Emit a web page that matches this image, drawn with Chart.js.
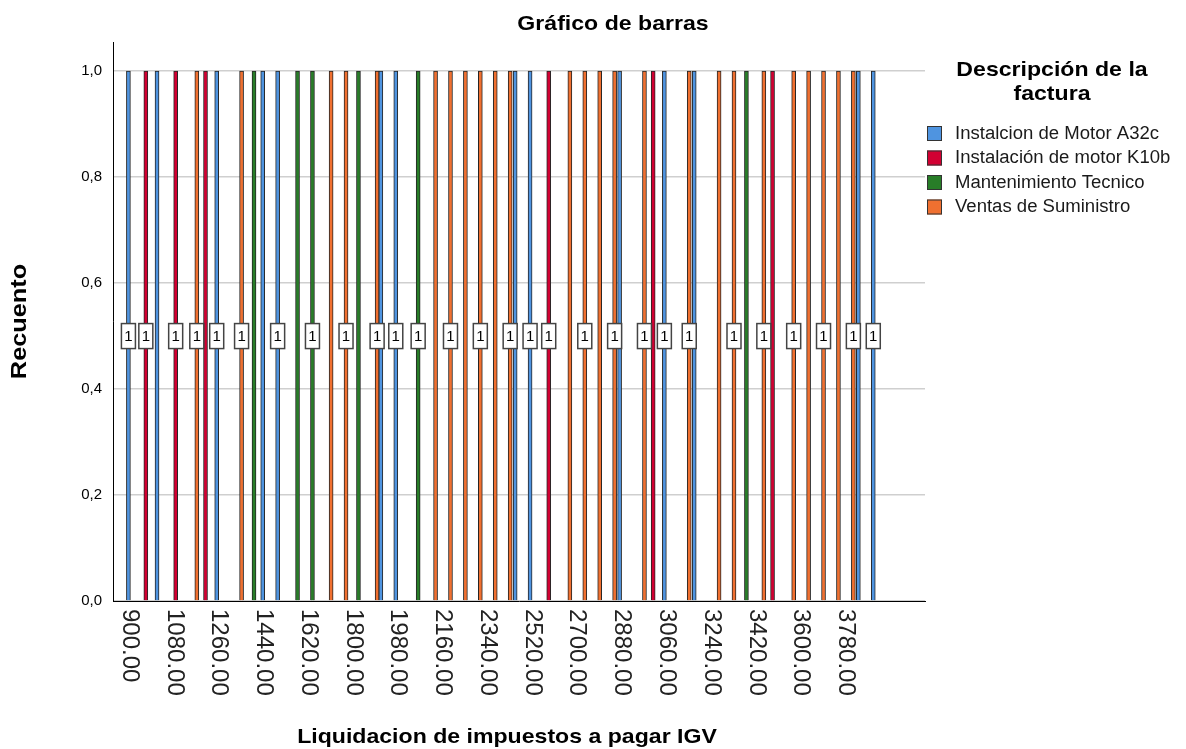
<!DOCTYPE html>
<html>
<head>
<meta charset="utf-8">
<script src="https://cdn.jsdelivr.net/npm/chart.js@4/dist/chart.umd.min.js"></script>
<style>
  html, body { margin: 0; padding: 0; background: #ffffff; }
  #wrap { width: 1186px; height: 749px; position: relative; }
</style>
</head>
<body>
<div id="wrap"><canvas id="chart" width="1186" height="749"></canvas></div>
<script>
// IGV amounts per invoice description, and the count of invoices at each amount
const seriesNames = [
  'Instalcion de Motor A32c',
  'Instalación de motor K10b',
  'Mantenimiento Tecnico',
  'Ventas de Suministro'
];

const igvMotorA32c = [900, 1015, 1255, 1440, 1500, 1915, 1975, 2455, 2515, 2875, 3055, 3175, 3835, 3895];
const cntMotorA32c = [1, 1, 1, 1, 1, 1, 1, 1, 1, 1, 1, 1, 1, 1];

const igvMotorK10b = [970, 1090, 1210, 2590, 3010, 3490];
const cntMotorK10b = [1, 1, 1, 1, 1, 1];

const igvMantenimiento = [1405, 1580, 1640, 1825, 2065, 3385];
const cntMantenimiento = [1, 1, 1, 1, 1, 1];

const igvSuministro = [1175, 1355, 1715, 1775, 1900, 2135, 2195, 2255, 2315, 2375, 2435,
                       2675, 2735, 2795, 2855, 2975, 3155, 3275, 3335, 3455,
                       3575, 3635, 3695, 3755, 3815];
const cntSuministro = [1, 1, 1, 1, 1, 1, 1, 1, 1, 1, 1, 1, 1, 1, 1, 1, 1, 1, 1, 1, 1, 1, 1, 1, 1];

// labelled positions on the IGV axis
const igvTicks = [900, 1080, 1260, 1440, 1620, 1800, 1980, 2160, 2340, 2520,
                  2700, 2880, 3060, 3240, 3420, 3600, 3780];

const chartTitle = 'Gráfico de barras';
const xTitle = 'Liquidacion de impuestos a pagar IGV';
const yTitle = 'Recuento';
const legendTitle = ['Descripción de la', 'factura'];

const FONT = "'Liberation Sans', Arial, Helvetica, sans-serif";
const fills = ['#4f94e0', '#d20032', '#287d28', '#f07030'];

const seriesIgv = [igvMotorA32c, igvMotorK10b, igvMantenimiento, igvSuministro];
const seriesCnt = [cntMotorA32c, cntMotorK10b, cntMantenimiento, cntSuministro];

const datasets = seriesIgv.map((xs, s) => ({
  label: seriesNames[s],
  data: xs.map((v, i) => ({ x: v, y: seriesCnt[s][i] })),
  backgroundColor: fills[s],
  borderColor: '#262626',
  borderWidth: 1,
  barThickness: 4,
  grouped: false
}));

// text slightly widened, the way the titles are set
function wideText(ctx, text, x, y, sx) {
  ctx.save();
  ctx.translate(x, y);
  ctx.scale(sx, 1);
  ctx.fillText(text, 0, 0);
  ctx.restore();
}

// Text drawn around the plot: title, rotated IGV tick labels, axis titles, legend
const decorations = {
  id: 'decorations',
  afterDatasetsDraw(chart) {
    const ctx = chart.ctx;
    const yScale = chart.scales.y;
    // count labels at mid-height of each bar; later series / larger values claim space first
    const placed = [];
    ctx.save();
    for (let d = chart.data.datasets.length - 1; d >= 0; d--) {
      const meta = chart.getDatasetMeta(d);
      for (let i = meta.data.length - 1; i >= 0; i--) {
        const el = meta.data[i];
        const val = chart.data.datasets[d].data[i].y;
        if (placed.some(px => Math.abs(px - el.x) < 16)) continue;
        placed.push(el.x);
        const yc = yScale.getPixelForValue(val / 2);
        const w = 14, h = 25;
        ctx.fillStyle = '#ffffff';
        ctx.fillRect(el.x - w / 2, yc - h / 2, w, h);
        ctx.strokeStyle = '#444444';
        ctx.lineWidth = 1.5;
        ctx.strokeRect(el.x - w / 2, yc - h / 2, w, h);
        ctx.fillStyle = '#000000';
        ctx.font = `15px ${FONT}`;
        ctx.textAlign = 'center';
        ctx.textBaseline = 'middle';
        ctx.fillText(String(val), el.x, yc + 1);
      }
    }
    ctx.restore();
  },
  afterDraw(chart) {
    const ctx = chart.ctx;
    const xScale = chart.scales.x;
    const area = chart.chartArea;
    ctx.save();

    // rotated IGV tick labels, reading downward
    ctx.fillStyle = '#222222';
    ctx.font = `24px ${FONT}`;
    ctx.textAlign = 'left';
    ctx.textBaseline = 'middle';
    xScale.ticks.forEach(t => {
      const px = xScale.getPixelForValue(t.value);
      ctx.save();
      ctx.translate(px + 1, area.bottom + 8);
      ctx.rotate(Math.PI / 2);
      ctx.fillText(t.value.toFixed(2), 0, 0);
      ctx.restore();
    });

    // chart title
    ctx.fillStyle = '#000000';
    ctx.font = `bold 21px ${FONT}`;
    ctx.textAlign = 'center';
    ctx.textBaseline = 'middle';
    wideText(ctx, chartTitle, 613, 24, 1.1);

    // axis titles
    wideText(ctx, xTitle, 507, 737, 1.1);
    ctx.save();
    ctx.font = `bold 22px ${FONT}`;
    ctx.translate(20, (area.top + area.bottom) / 2);
    ctx.rotate(-Math.PI / 2);
    wideText(ctx, yTitle, 0, 0, 1.15);
    ctx.restore();

    // legend
    wideText(ctx, legendTitle[0], 1052, 70, 1.1);
    wideText(ctx, legendTitle[1], 1052, 94, 1.1);
    ctx.font = `18px ${FONT}`;
    ctx.textAlign = 'left';
    chart.data.datasets.forEach((ds, i) => {
      const cy = 133 + i * 24.5;
      ctx.fillStyle = ds.backgroundColor;
      ctx.fillRect(927, cy - 7, 15, 15);
      ctx.strokeStyle = '#333333';
      ctx.lineWidth = 1;
      ctx.strokeRect(927.5, cy - 6.5, 14, 14);
      ctx.fillStyle = '#1a1a1a';
      wideText(ctx, ds.label, 955, cy + 1, 1.03);
    });
    ctx.restore();
  }
};

new Chart(document.getElementById('chart'), {
  type: 'bar',
  data: { datasets },
  options: {
    responsive: false,
    animation: false,
    layout: { padding: { top: 42, right: 261, left: 0, bottom: 0 } },
    plugins: {
      legend: { display: false },
      title: { display: false },
      tooltip: { enabled: false }
    },
    scales: {
      x: {
        type: 'linear',
        min: 838,
        max: 4103,
        offset: false,
        grid: { display: false, drawTicks: false },
        border: { display: true, color: '#000000', width: 1 },
        ticks: { display: false },
        afterBuildTicks: s => { s.ticks = igvTicks.map(v => ({ value: v })); },
        afterFit: s => { s.height = 148; }
      },
      y: {
        min: 0,
        max: 1.055,
        grid: { color: '#cfcfcf', lineWidth: 1.5, drawTicks: false },
        border: { display: true, color: '#000000', width: 1 },
        ticks: {
          stepSize: 0.2,
          includeBounds: false,
          padding: 11,
          color: '#000000',
          font: { family: FONT, size: 15 },
          callback: v => v.toFixed(1).replace('.', ',')
        },
        afterFit: s => { s.width = 113; }
      }
    }
  },
  plugins: [decorations]
});
</script>
</body>
</html>
